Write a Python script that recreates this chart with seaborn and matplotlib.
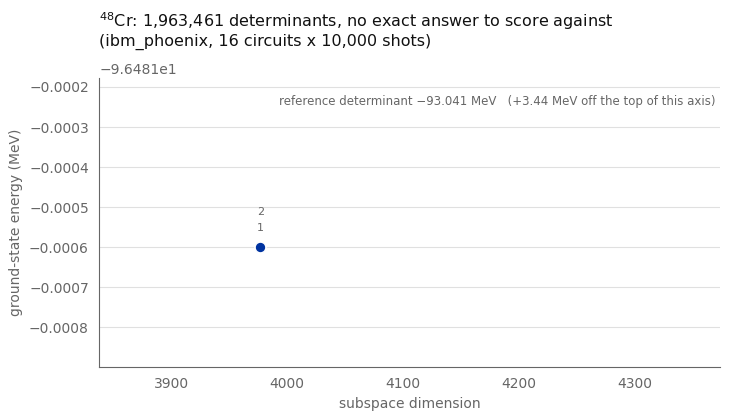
import matplotlib
matplotlib.use("Agg")
import matplotlib.pyplot as plt
import seaborn as sns
import pandas as pd

# data
iterations = [1, 2]
subspace_dim = [3977, 3977]
energy = [-96.4816, -96.4816]
reference_energy = -93.041
x_limits = [3838, 4373]
y_limits = [-96.481899, -96.481178]

df = pd.DataFrame({"iteration": iterations, "dim": subspace_dim, "energy": energy})

sns.set_style("white")
grey = "#666666"
plt.rcParams["font.family"] = ["DejaVu Sans"]

fig, ax = plt.subplots(figsize=(7.3, 4.2), dpi=100)
sns.scatterplot(data=df, x="dim", y="energy", color="#0033a0", s=60, edgecolor="white",
                linewidth=1, ax=ax, zorder=3)

# iteration numbers stacked above the (overlapping) points
for k, row in df.iterrows():
    ax.annotate(str(int(row["iteration"])), (row["dim"], row["energy"]), xytext=(0, 10.5 + 11.5 * k),
                textcoords="offset points", ha="center", va="bottom", fontsize=8, color=grey)

ax.set_xlim(*x_limits)
ax.set_ylim(*y_limits)
ax.yaxis.grid(True, color="#e0e0e0", linewidth=0.8)
ax.set_axisbelow(True)
for s in ["top", "right"]:
    ax.spines[s].set_visible(False)
for s in ["left", "bottom"]:
    ax.spines[s].set_color(grey)
ax.tick_params(colors=grey, labelsize=10, length=4)
ax.yaxis.get_offset_text().set_color(grey)
ax.yaxis.get_offset_text().set_fontsize(10)

ax.set_xlabel("subspace dimension", color=grey, fontsize=10)
ax.set_ylabel("ground-state energy (MeV)", color=grey, fontsize=10)

ax.text(0.993, 0.94, f"reference determinant \u2212{abs(reference_energy):.3f} MeV   (+{reference_energy - energy[0]:.2f} MeV off the top of this axis)",
        transform=ax.transAxes, ha="right", va="top", fontsize=8.5, color=grey)

ax.set_title("$^{48}$Cr: 1,963,461 determinants, no exact answer to score against\n(ibm_phoenix, 16 circuits x 10,000 shots)",
             loc="left", fontsize=11.5, color="#111111", pad=23)

fig.subplots_adjust(left=0.136, right=0.986, top=0.814, bottom=0.126)
fig.savefig("out.png", dpi=100)
